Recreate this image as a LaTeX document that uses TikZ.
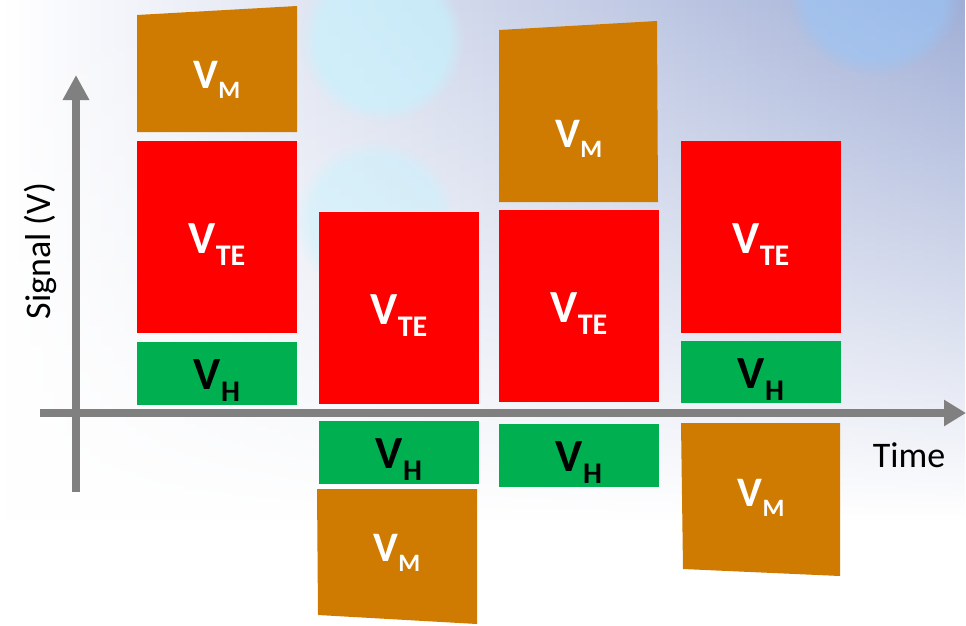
\documentclass[tikz,border=0pt]{standalone}
\usepackage{fontspec}
\setmainfont{Carlito}
\usetikzlibrary{arrows.meta, fadings}

\definecolor{vorange}{HTML}{CF7A00}
\definecolor{vred}{HTML}{FF0000}
\definecolor{vgreen}{HTML}{00B050}
\definecolor{axisgray}{HTML}{808080}
\definecolor{skyblue}{HTML}{A0AED6}
\definecolor{midblue}{HTML}{C4E2FA}
\definecolor{bokeh}{HTML}{C4F4FF}
\definecolor{bokehblue}{HTML}{98C6F8}

\tikzfading[name=fadedown, top color=transparent!0, bottom color=transparent!100]

\newcommand{\vbig}[1]{{\fontsize{46}{46}\selectfont V}\raisebox{-12pt}{\fontsize{30}{30}\selectfont #1}}
\newcommand{\vsmall}[1]{{\fontsize{42}{42}\selectfont V}\raisebox{-10pt}{\fontsize{25}{25}\selectfont #1}}

\begin{document}
\begin{tikzpicture}[
    x=1pt, y=-1pt,
    bar/.style={rectangle, inner sep=0pt, outer sep=0pt, minimum width=160pt, anchor=north west},
    lab/.style={anchor=base, inner sep=0pt, font=\bfseries},
    axis/.style={draw=axisgray, line width=8pt},
    axlabel/.style={anchor=base, inner sep=0pt, font=\fontsize{36}{36}\selectfont},
    blob/.style={path fading=circle with fuzzy edge 20 percent}
]

\useasboundingbox (0,0) rectangle (966,625);

% Background: pale sky with soft bokeh
\fill[white] (0,0) rectangle (966,625);
\shade[left color=white, middle color=midblue, right color=skyblue, path fading=fadedown] (0,0) rectangle (966,520);
\fill[bokeh, opacity=0.6, blob] (382,40) circle[radius=82pt];
\fill[bokeh, opacity=0.45, blob] (375,220) circle[radius=80pt];
\fill[bokehblue, opacity=0.55, blob] (875,-12) circle[radius=88pt];

% Axes
\coordinate (yfoot) at (76,492);
\coordinate (ytip) at (76,75);
\coordinate (xfoot) at (40,413);
\coordinate (xtip) at (966,413);
\draw[axis, -{Triangle[length=25pt, width=25pt]}] (yfoot) -- (ytip);
\draw[axis, -{Triangle[length=22pt, width=25pt]}] (xfoot) -- (xtip);

\node[axlabel, rotate=90] (ylab) at (50,251) {Signal (V)};
\node[axlabel] (xlab) at (909,467) {Time};

% Column 1: VM on top, VTE, VH above the axis
\fill[vorange] (137,15) -- (297,6) -- (297,132) -- (137,132) -- cycle;
\node[lab, text=white] (m1) at (217,88) {\vsmall{M}};
\node[bar, fill=vred, minimum height=192pt] (te1) at (137,141) {};
\node[lab, text=white] (lte1) at ([yshift=-16pt]te1.center) {\vbig{TE}};
\node[bar, fill=vgreen, minimum height=63pt] (h1) at (137,342) {};
\node[lab, text=black] (lh1) at ([yshift=-16pt]h1.center) {\vbig{H}};

% Column 2: VTE above, VH and VM below the axis
\node[bar, fill=vred, minimum height=192pt] (te2) at (319,212) {};
\node[lab, text=white] (lte2) at ([yshift=-16pt]te2.center) {\vbig{TE}};
\node[bar, fill=vgreen, minimum height=63pt] (h2) at (319,421) {};
\node[lab, text=black] (lh2) at ([yshift=-16pt]h2.center) {\vbig{H}};
\fill[vorange] (317,489) -- (477,489) -- (477,624) -- (318,615) -- cycle;
\node[lab, text=white] (m2) at (397,561) {\vsmall{M}};

% Column 3: VM and VTE above, VH below the axis
\fill[vorange] (499,30) -- (657,21) -- (658,202) -- (499,202) -- cycle;
\node[lab, text=white] (m3) at (579,147) {\vsmall{M}};
\node[bar, fill=vred, minimum height=192pt] (te3) at (499,210) {};
\node[lab, text=white] (lte3) at ([yshift=-16pt]te3.center) {\vbig{TE}};
\node[bar, fill=vgreen, minimum height=63pt] (h3) at (499,424) {};
\node[lab, text=black] (lh3) at ([yshift=-16pt]h3.center) {\vbig{H}};

% Column 4: VTE and VH above, VM below the axis
\node[bar, fill=vred, minimum height=192pt] (te4) at (681,141) {};
\node[lab, text=white] (lte4) at ([yshift=-16pt]te4.center) {\vbig{TE}};
\node[bar, fill=vgreen, minimum height=62pt] (h4) at (681,341) {};
\node[lab, text=black] (lh4) at ([yshift=-16pt]h4.center) {\vbig{H}};
\fill[vorange] (681,423) -- (840,423) -- (840,576) -- (683,569) -- cycle;
\node[lab, text=white] (m4) at (761,506) {\vsmall{M}};

\end{tikzpicture}
\end{document}
